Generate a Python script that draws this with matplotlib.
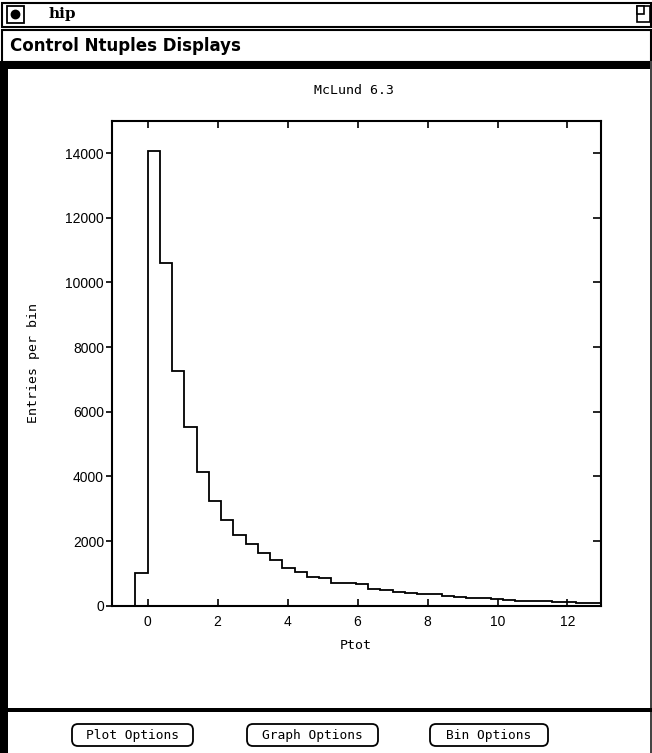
import numpy as np
import matplotlib
matplotlib.use("Agg")
import matplotlib.pyplot as plt
from matplotlib.patches import Rectangle, FancyBboxPatch, Circle

# ---- data ----
bin_start = -0.35
bin_width = 0.35
entries = [1000, 14050, 10600, 7250, 5520, 4150, 3230, 2650, 2180, 1900,
           1620, 1400, 1180, 1050, 880, 860, 700, 690, 660, 520,
           500, 410, 400, 370, 350, 310, 280, 250, 230, 210,
           170, 160, 150, 140, 110, 100, 95, 80]
x_ticks = [0, 2, 4, 6, 8, 10, 12]
y_ticks = [0, 2000, 4000, 6000, 8000, 10000, 12000, 14000]
title = "McLund 6.3"
x_label = "Ptot"
y_label = "Entries per bin"
menu_items = "Control Ntuples Displays"
buttons = ["Plot Options", "Graph Options", "Bin Options"]
window_title = "hip"

edges = bin_start + bin_width * np.arange(len(entries) + 1)

W, H = 652, 753
fig = plt.figure(figsize=(W / 100, H / 100), dpi=100)
fig.patch.set_facecolor("white")

# ---- window chrome (pixel coordinates) ----
bg = fig.add_axes([0, 0, 1, 1], zorder=0)
bg.set_xlim(0, W)
bg.set_ylim(H, 0)
bg.axis("off")

def rect(x0, y0, x1, y1, **kw):
    bg.add_patch(Rectangle((x0, y0), x1 - x0, y1 - y0, **kw))

# title bar
rect(1.5, 2.5, 650.5, 26.5, facecolor="white", edgecolor="black", lw=1.5)
rect(7, 6, 24, 23, facecolor="white", edgecolor="black", lw=1.3)
bg.add_patch(Circle((15.5, 14.5), 4.2, facecolor="black", edgecolor="black"))
rect(637, 6, 650, 22, facecolor="white", edgecolor="black", lw=1.2)
rect(637, 6, 644, 14, facecolor="white", edgecolor="black", lw=1.2)
bg.text(49, 14, window_title, fontsize=11, fontweight="bold",
        family="DejaVu Serif", ha="left", va="center")

# menu bar
rect(1.5, 29.5, 650.5, 61.5, facecolor="white", edgecolor="black", lw=1.5)
bg.text(10, 46, menu_items, fontsize=12, fontweight="bold", family="DejaVu Sans",
        ha="left", va="center")

# heavy separators and frame
rect(0, 61, W, 69, facecolor="black", edgecolor="none")
rect(0, 61, 8, H, facecolor="black", edgecolor="none")
rect(650, 61, 652, H, facecolor="#444444", edgecolor="none")
rect(0, 708, W, 712, facecolor="black", edgecolor="none")

# buttons
btn_boxes = [(72, 193), (247, 378), (430, 548)]
for label, (bx0, bx1) in zip(buttons, btn_boxes):
    bg.add_patch(FancyBboxPatch((bx0, 724), bx1 - bx0, 22,
                                boxstyle="round,pad=0,rounding_size=6",
                                facecolor="white", edgecolor="black", lw=1.3))
    bg.text((bx0 + bx1) / 2, 735.5, label, fontsize=9.3,
            family="DejaVu Sans Mono", ha="center", va="center")

# ---- histogram axes ----
left, right, top, bottom = 111.7, 600.7, 120.7, 605.7
ax = fig.add_axes([left / W, 1 - bottom / H, (right - left) / W, (bottom - top) / H],
                  zorder=1)
ax.stairs(entries, edges, baseline=0, color="black", lw=1.3)
ax.set_xlim(-1.03, 12.95)
ax.set_ylim(0, 15000)
ax.set_xticks(x_ticks)
ax.set_yticks(y_ticks)
ax.set_xticklabels([str(t) for t in x_ticks], family="Liberation Sans", fontsize=10)
ax.set_yticklabels([str(t) for t in y_ticks], family="Liberation Sans", fontsize=10)
ax.tick_params(axis="x", direction="in", top=True, length=5, width=1.2, pad=7)
ax.tick_params(axis="y", which="both", left=True, right=True, length=4.5,
               width=1.2, pad=1)
ax.tick_params(axis="y", direction="out")
for t in ax.yaxis.get_major_ticks():
    t.tick2line.set_marker(matplotlib.lines.TICKLEFT)
    t.tick2line.set_markersize(6)
for s in ax.spines.values():
    s.set_linewidth(1.5)

ax.set_xlabel(x_label, family="DejaVu Sans Mono", fontsize=9.5, labelpad=7)
ax.set_ylabel(y_label, family="DejaVu Sans Mono", fontsize=9.5, labelpad=18)
fig.text(354 / W, 1 - 90 / H, title, family="DejaVu Sans Mono", fontsize=9.5,
         ha="center", va="center")

fig.savefig("out.png", dpi=100, facecolor="white")
